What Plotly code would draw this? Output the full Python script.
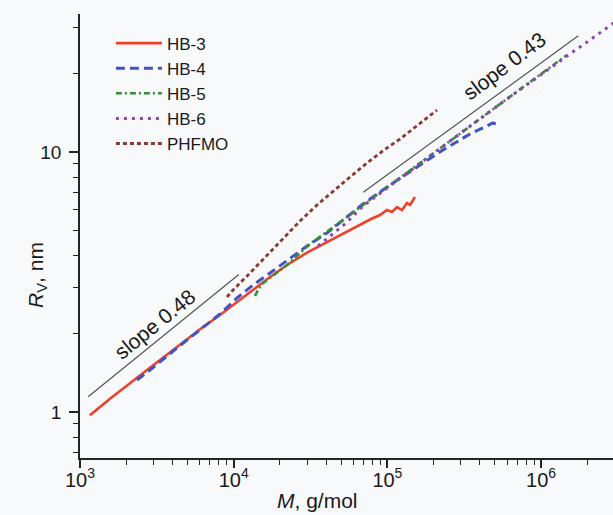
import numpy as np
import plotly.graph_objects as go

# Molar mass M (g/mol) and hydrodynamic radius Rv (nm) for each sample
hb3_M = [1160, 1567, 2729, 4277, 6314, 8145, 10510, 13360, 17230, 22230, 30000,
         40460, 51410, 63420, 79400, 89530, 99400, 107100, 115500, 124500,
         134100, 140300, 151200]
hb3_R = [0.972, 1.125, 1.450, 1.778, 2.123, 2.361, 2.649, 2.945, 3.305, 3.677, 4.10,
         4.50, 4.85, 5.20, 5.55, 5.724, 5.983, 5.878, 6.144, 5.983,
         6.366, 6.254, 6.713]

hb4_M = [2349, 2854, 4277, 6314, 8145, 10510, 13360, 17230, 22230, 30000,
         40460, 51410, 69390, 99400, 146800, 229900, 344700, 431500, 486600, 532300]
hb4_R = [1.328, 1.450, 1.763, 2.123, 2.382, 2.745, 3.079, 3.425, 3.809, 4.350,
         4.880, 5.476, 6.310, 7.334, 8.527, 10.18, 11.73, 12.48, 12.93, 12.70]

hb5_M = [13760, 14390, 15280, 17230, 22230, 31370, 40460, 51410, 69390,
         120800, 255500, 540400, 983500, 1474000]
hb5_R = [2.794, 2.945, 3.107, 3.277, 3.677, 4.428, 4.923, 5.476, 6.254,
         7.943, 11.02, 15.30, 19.78, 23.61]

hb6_M = [35360, 42320, 52980, 69390, 120800, 255500, 540400, 983500,
         1474000, 2080000, 2937000, 3515000]
hb6_R = [4.350, 4.753, 5.286, 6.198, 7.943, 11.02, 15.30, 19.78,
         23.40, 26.97, 31.35, 33.65]

phfmo_M = [9045, 9895, 12770, 16470, 20930, 27010, 34830, 44270, 57110,
           73660, 95040, 120800, 158200, 210200]
phfmo_R = [2.769, 2.945, 3.425, 4.017, 4.669, 5.428, 6.254, 7.079, 8.013,
           9.072, 10.18, 11.22, 12.70, 14.50]

# Power-law guide lines (end points)
guide48_M = [1130, 10800]
guide48_R = [1.145, 3.38]
guide43_M = [69680, 1746000]
guide43_R = [7.0, 28.0]

# Guide labels: text, position (M, Rv), rotation
guide_labels = [("slope 0.48", 3030, 2.18, -39),
                ("slope 0.43", 582000, 21.42, -37)]

x_ticks = [1e3, 1e4, 1e5, 1e6]
x_ticktext = ["10<sup>3</sup>", "10<sup>4</sup>", "10<sup>5</sup>", "10<sup>6</sup>"]
y_ticks = [1, 10]
y_ticktext = ["1", "10"]

FONT = "Liberation Sans, Arial, Helvetica, sans-serif"
AX = "#252525"
TXT = "#1a1a1a"
BG = "#f8f9fb"

fig = go.Figure()

for gm, gr in [(guide48_M, guide48_R), (guide43_M, guide43_R)]:
    fig.add_trace(go.Scatter(x=gm, y=gr, mode="lines", showlegend=False,
                             line=dict(color="#555555", width=1.2), hoverinfo="skip"))

series = [
    ("HB-3", hb3_M, hb3_R, "#ef402c", "solid", 2.6),
    ("HB-4", hb4_M, hb4_R, "#4153c2", "9px,5px", 3.0),
    ("HB-5", hb5_M, hb5_R, "#3a8c3a", "6px,3px,2px,3px", 2.6),
    ("HB-6", hb6_M, hb6_R, "#8e45b0", "3px,5px", 3.0),
    ("PHFMO", phfmo_M, phfmo_R, "#8a3a30", "4px,3px", 2.8),
]
for name, m, r, col, dash, w in series:
    fig.add_trace(go.Scatter(x=m, y=r, mode="lines", name=name,
                             line=dict(color=col, dash=dash, width=w)))

for text, m, r, ang in guide_labels:
    fig.add_annotation(x=np.log10(m), y=np.log10(r), text=text, showarrow=False,
                       textangle=ang, xanchor="center", yanchor="middle",
                       font=dict(family=FONT, size=21, color=TXT))

# Axis titles
fig.add_annotation(xref="paper", yref="paper", x=0.4465, y=-0.095,
                   xanchor="center", yanchor="middle",
                   text="<i>M</i>, g/mol", showarrow=False,
                   font=dict(family=FONT, size=21, color=TXT))
fig.add_annotation(xref="paper", yref="paper", x=-0.081, y=0.412, textangle=-90,
                   xanchor="center", yanchor="middle",
                   text="<i>R</i><sub>V</sub>, nm", showarrow=False,
                   font=dict(family=FONT, size=21, color=TXT))

x_minor = [k * 10 ** e for e in range(3, 7) for k in range(2, 10)]
y_minor = [0.7, 0.8, 0.9] + [k for k in range(2, 10)] + [20, 30]

fig.update_xaxes(type="log", range=[3, 6.4678], showgrid=False, zeroline=False,
                 showline=True, linecolor=AX, linewidth=1.7,
                 tickmode="array", tickvals=x_ticks, ticktext=x_ticktext,
                 ticks="outside", ticklen=8, tickwidth=1.6, tickcolor=AX,
                 ticklabelstandoff=-5,
                 tickfont=dict(family=FONT, size=20, color=TXT),
                 minor=dict(tickmode="array", tickvals=x_minor, ticks="outside",
                            ticklen=5, tickwidth=1.4, tickcolor=AX, showgrid=False))
fig.update_yaxes(type="log", range=[-0.1769, 1.5308], showgrid=False, zeroline=False,
                 showline=True, linecolor=AX, linewidth=1.7,
                 tickmode="array", tickvals=y_ticks, ticktext=y_ticktext,
                 ticks="outside", ticklen=9, tickwidth=1.6, tickcolor=AX,
                 ticklabelstandoff=4,
                 tickfont=dict(family=FONT, size=19, color=TXT),
                 minor=dict(tickmode="array", tickvals=y_minor, ticks="outside",
                            ticklen=5, tickwidth=1.4, tickcolor=AX, showgrid=False))

fig.update_layout(
    width=613, height=515,
    margin=dict(l=80, r=0, t=14, b=57),
    paper_bgcolor=BG, plot_bgcolor=BG,
    showlegend=True,
    legend=dict(x=0.058, y=0.974, xanchor="left", yanchor="top", itemwidth=46,
                bgcolor="rgba(0,0,0,0)", font=dict(family=FONT, size=17, color=TXT)),
)

fig.write_html("out.html")
